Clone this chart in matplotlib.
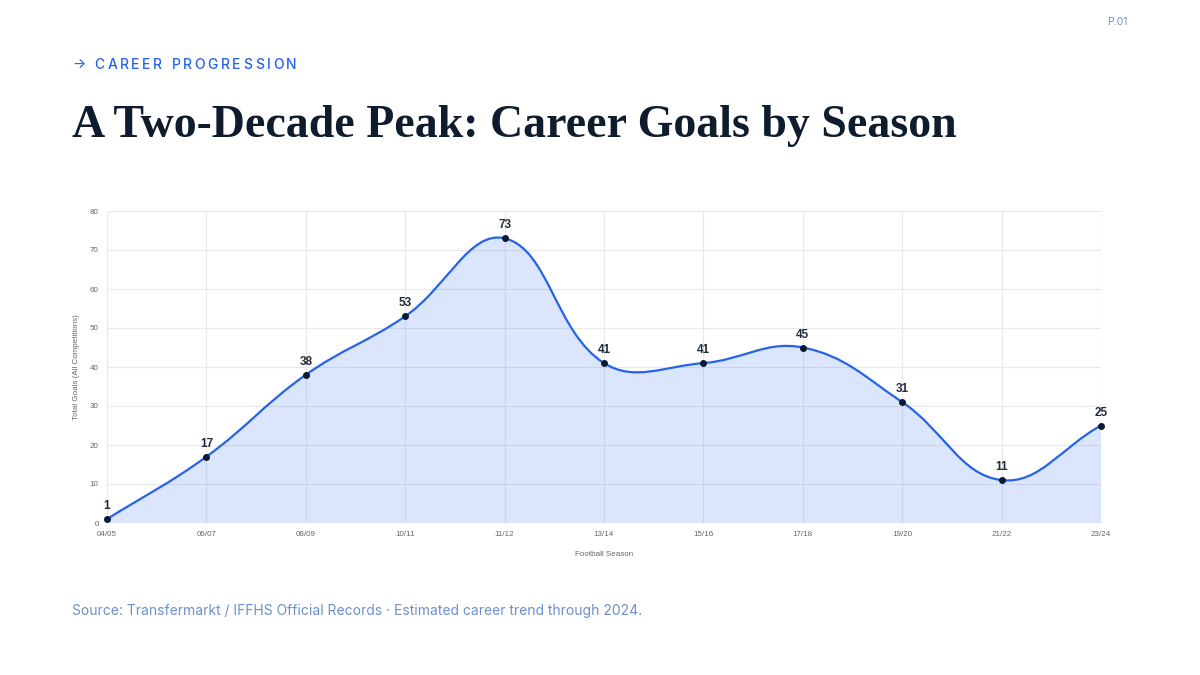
import numpy as np
import matplotlib
matplotlib.use("Agg")
import matplotlib.pyplot as plt
from matplotlib.path import Path
from matplotlib.patches import PathPatch

# data
seasons = ["04/05", "06/07", "08/09", "10/11", "11/12", "13/14",
           "15/16", "17/18", "19/20", "21/22", "23/24"]
goals = [1, 17, 38, 53, 73, 41, 41, 45, 31, 11, 25]
y_ticks = [0, 10, 20, 30, 40, 50, 60, 70, 80]

BLUE = "#2563eb"
NAVY = "#0f1c2e"
MUTED = "#6f8fcc"
CHART_FONT = ["Liberation Sans", "DejaVu Sans"]

plt.rcParams['font.family'] = ['Inter', 'DejaVu Sans']

fig = plt.figure(figsize=(12, 6.75), dpi=100, facecolor="white")
ax = fig.add_axes([107 / 1200, 1 - 523 / 675, (1101 - 107) / 1200, (523 - 211) / 675])

x = np.arange(len(seasons))
ax.set_xlim(0, len(seasons) - 1)
ax.set_ylim(0, 80)


def spline_verts(ax, xs, ys, tension=0.4):
    # same bezier control points as a chart.js line with tension 0.4
    pts = ax.transData.transform(np.column_stack([xs, ys]))
    n = len(pts)
    x0, y0 = ax.transData.transform((0, 0))
    x1, y1 = ax.transData.transform((n - 1, 80))
    prev_cp, next_cp = [], []
    for i in range(n):
        p0 = pts[max(i - 1, 0)]
        p1 = pts[i]
        p2 = pts[min(i + 1, n - 1)]
        d01 = np.hypot(*(p1 - p0))
        d12 = np.hypot(*(p2 - p1))
        tot = d01 + d12
        s01 = d01 / tot if tot else 0
        s12 = d12 / tot if tot else 0
        a = p1 - tension * s01 * (p2 - p0)
        b = p1 + tension * s12 * (p2 - p0)
        a = np.clip(a, [x0, y0], [x1, y1])
        b = np.clip(b, [x0, y0], [x1, y1])
        prev_cp.append(a)
        next_cp.append(b)
    verts = [pts[0]]
    codes = [Path.MOVETO]
    for i in range(n - 1):
        verts += [next_cp[i], prev_cp[i + 1], pts[i + 1]]
        codes += [Path.CURVE4] * 3
    inv = ax.transData.inverted()
    return inv.transform(np.array(verts)), codes


verts, codes = spline_verts(ax, x, goals)

# area under the curve
fill_verts = np.vstack([verts, [[x[-1], 0], [x[0], 0], [x[0], goals[0]]]])
fill_codes = codes + [Path.LINETO, Path.LINETO, Path.CLOSEPOLY]
ax.add_patch(PathPatch(Path(fill_verts, fill_codes), facecolor=BLUE, alpha=0.16,
                       edgecolor="none", zorder=2))
ax.add_patch(PathPatch(Path(verts, codes), facecolor="none", edgecolor=BLUE,
                       lw=1.6, zorder=3, capstyle="round", joinstyle="round"))

ax.scatter(x, goals, s=16, color="#0b1a33", zorder=4, clip_on=False)
for xi, g in zip(x, goals):
    ax.annotate(str(g), (xi, g), xytext=(0, 5), textcoords="offset points",
                ha="center", va="bottom", fontsize=8.5, fontweight="bold",
                family=CHART_FONT, color="#222b36", zorder=5)

# grid and axes
ax.set_xticks(x)
ax.set_xticklabels(seasons, family=CHART_FONT)
ax.set_yticks(y_ticks)
ax.set_yticklabels([str(t) for t in y_ticks], family=CHART_FONT)
ax.grid(True, color="#e8e8e8", lw=0.8)
ax.set_axisbelow(True)
for s in ax.spines.values():
    s.set_visible(False)
ax.tick_params(length=0, labelsize=5.8, labelcolor="#666666", pad=6)
ax.set_xlabel("Football Season", fontsize=5.8, color="#666666", labelpad=9,
              family=CHART_FONT)
ax.set_ylabel("Total Goals (All Competitions)", fontsize=5.8, color="#666666",
              labelpad=7, family=CHART_FONT)

# header text, kicker drawn letter by letter for the tracking
renderer = fig.canvas.get_renderer()
kicker = "→ CAREER PROGRESSION"
px = 72
for ch in kicker:
    t = fig.text(px / 1200, 1 - 65 / 675, ch, fontsize=10, fontweight="medium",
                 color=BLUE, va="center", ha="left")
    w = t.get_window_extent(renderer).width if ch != " " else 4
    px += w + 2.6

fig.text(72 / 1200, 1 - 137 / 675, "A Two-Decade Peak: Career Goals by Season",
         family="Liberation Serif", fontweight="bold", fontsize=33, color=NAVY,
         va="baseline", ha="left")
fig.text(1128 / 1200, 1 - 22 / 675, "P.01", fontsize=7.5, color=MUTED, ha="right", va="center")
fig.text(72 / 1200, 1 - 611 / 675,
         "Source: Transfermarkt / IFFHS Official Records · Estimated career trend through 2024.",
         fontsize=10, color=MUTED, ha="left", va="center")

fig.savefig("out.png", dpi=100, facecolor="white")
